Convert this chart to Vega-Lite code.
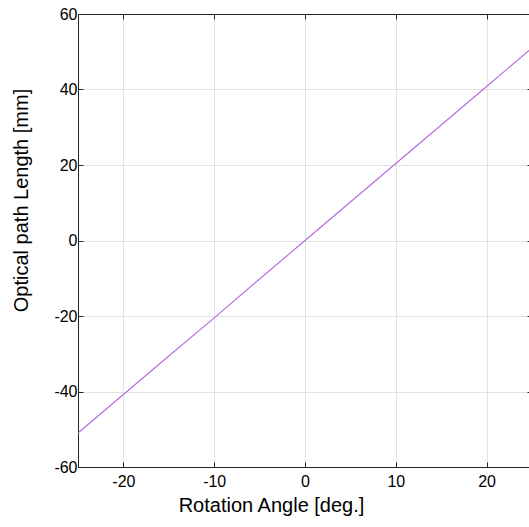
{
  "$schema": "https://vega.github.io/schema/vega-lite/v6.json",
  "autosize": "none",
  "width": 454,
  "height": 453,
  "padding": {"left": 78, "top": 14, "right": 0, "bottom": 60},
  "background": "white",
  "config": {
    "font": "Liberation Sans",
    "view": {"stroke": null},
    "axis": {
      "domainColor": "#262626",
      "tickColor": "#262626",
      "labelColor": "#000000",
      "titleColor": "#000000",
      "labelFont": "Liberation Sans",
      "titleFont": "Liberation Sans",
      "labelFontSize": 16,
      "titleFontSize": 20,
      "titleFontWeight": "normal",
      "gridColor": "#e3e3e3",
      "gridWidth": 1
    }
  },
  "data": {
    "values": [
      {"angle": -25, "opl": -51.0},
      {"angle": -20, "opl": -40.8},
      {"angle": -15, "opl": -30.6},
      {"angle": -10, "opl": -20.5},
      {"angle": -5, "opl": -10.2},
      {"angle": 0, "opl": 0.0},
      {"angle": 5, "opl": 10.2},
      {"angle": 10, "opl": 20.4},
      {"angle": 15, "opl": 30.6},
      {"angle": 20, "opl": 40.8},
      {"angle": 25, "opl": 51.0}
    ]
  },
  "layer": [
    {
      "mark": {"type": "line", "color": "#b468e2", "strokeWidth": 1.1},
      "encoding": {
        "x": {
          "field": "angle", "type": "quantitative",
          "scale": {"domain": [-25, 25], "nice": false, "zero": false},
          "axis": {
            "orient": "bottom",
            "values": [-20, -10, 0, 10, 20],
            "labelExpr": "toString(datum.value)",
            "grid": true,
            "tickSize": -5,
            "labelPadding": 11,
            "title": "Rotation Angle [deg.]",
            "titleX": 193,
            "titleY": 44,
            "titleBaseline": "alphabetic",
            "titleAnchor": null,
            "titleAlign": "center"
          }
        },
        "y": {
          "field": "opl", "type": "quantitative",
          "scale": {"domain": [-60, 60], "nice": false, "zero": false},
          "axis": {
            "orient": "left",
            "values": [-60, -40, -20, 0, 20, 40, 60],
            "labelExpr": "toString(datum.value)",
            "grid": true,
            "tickSize": -5,
            "labelPadding": 6,
            "title": "Optical path Length [mm]",
            "titleX": -51,
            "titleY": 186,
            "titleBaseline": "alphabetic",
            "titleAlign": "center",
            "titleAngle": -90
          }
        }
      }
    },
    {
      "mark": {"type": "line", "opacity": 0},
      "encoding": {
        "x": {
          "field": "angle", "type": "quantitative",
          "axis": {
            "orient": "top",
            "values": [-20, -10, 0, 10, 20],
            "grid": false,
            "labels": false,
            "tickSize": -5,
            "title": null
          }
        },
        "y": {
          "field": "opl", "type": "quantitative",
          "axis": {
            "orient": "right",
            "values": [-60, -40, -20, 0, 20, 40, 60],
            "grid": false,
            "labels": false,
            "tickSize": -5,
            "title": null
          }
        }
      }
    }
  ],
  "resolve": {"axis": {"x": "independent", "y": "independent"}}
}
